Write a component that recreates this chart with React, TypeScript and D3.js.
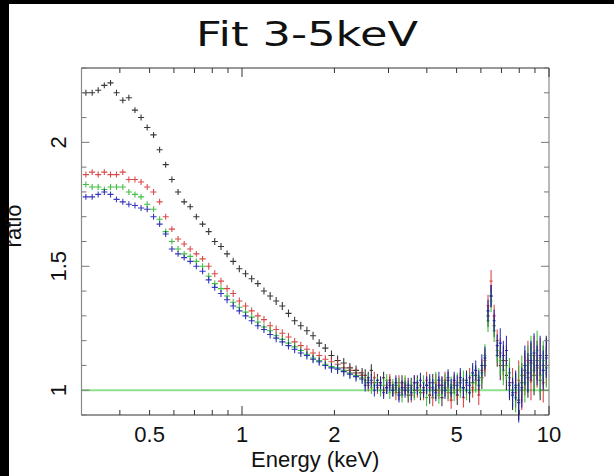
import React from "react";
import * as d3 from "d3";

// ---------- DATA ----------
const energiesLow = [0.310,0.325,0.340,0.356,0.373,0.390,0.409,0.428,0.448,0.469,0.491,0.515,0.539,0.564,0.591,0.619,0.648,0.678,0.710,0.744,0.779,0.815,0.854,0.894,0.936,0.980,1.027,1.075,1.126,1.179,1.235,1.292,1.353,1.417,1.484,1.554,1.627,1.704,1.784,1.868,1.956,2.048,2.145,2.246,2.352,2.462];
const energiesHigh = [2.519,2.578,2.638,2.699,2.762,2.826,2.892,2.960,3.029,3.099,3.171,3.245,3.321,3.398,3.478,3.559,3.642,3.726,3.813,3.902,3.993,4.086,4.181,4.278,4.378,4.480,4.584,4.691,4.800,4.912,5.026,5.143,5.263,5.386,5.512,5.640,5.771,5.906,6.043,6.185,6.329,6.476,6.627,6.781,6.939,7.101,7.266,7.435,7.608,7.786,7.967,8.153,8.343,8.537,8.735,8.939,9.147,9.360,9.578,9.801];

const blackLow = [2.20,2.20,2.21,2.23,2.24,2.20,2.17,2.18,2.13,2.10,2.06,2.03,1.97,1.91,1.85,1.80,1.76,1.74,1.70,1.67,1.64,1.60,1.58,1.55,1.52,1.49,1.47,1.45,1.43,1.40,1.38,1.36,1.34,1.31,1.28,1.26,1.24,1.22,1.19,1.17,1.14,1.12,1.11,1.09,1.08,1.07];
const redLow = [1.87,1.88,1.87,1.88,1.87,1.87,1.88,1.85,1.85,1.84,1.82,1.80,1.76,1.70,1.65,1.61,1.59,1.57,1.55,1.53,1.50,1.47,1.44,1.41,1.39,1.36,1.34,1.32,1.30,1.285,1.26,1.245,1.23,1.215,1.195,1.18,1.165,1.15,1.14,1.125,1.115,1.105,1.09,1.08,1.07,1.06];
const greenLow = [1.83,1.82,1.82,1.81,1.82,1.82,1.82,1.80,1.79,1.78,1.75,1.73,1.69,1.64,1.60,1.57,1.55,1.54,1.52,1.50,1.46,1.43,1.41,1.38,1.355,1.335,1.315,1.295,1.275,1.255,1.24,1.22,1.205,1.19,1.175,1.16,1.145,1.13,1.12,1.105,1.095,1.09,1.08,1.07,1.06,1.05];
const blueLow = [1.78,1.78,1.79,1.80,1.79,1.77,1.76,1.75,1.745,1.735,1.73,1.70,1.67,1.63,1.57,1.55,1.535,1.52,1.50,1.48,1.445,1.415,1.39,1.365,1.34,1.32,1.30,1.28,1.26,1.245,1.225,1.21,1.195,1.18,1.165,1.15,1.14,1.125,1.115,1.10,1.09,1.085,1.075,1.065,1.055,1.045];

const blackHigh = [1.06,1.05,1.08,1.03,1.04,1.02,1.05,1.01,1.03,1.00,1.02,0.99,1.03,1.01,0.98,1.02,1.00,1.03,0.99,1.01,1.02,0.98,1.03,1.00,1.02,0.97,1.01,1.04,0.99,1.02,0.98,1.03,1.01,1.04,0.99,1.03,1.06,1.02,1.05,1.10,1.30,1.38,1.26,1.14,1.10,1.12,1.06,1.02,0.98,1.01,0.96,1.03,1.08,1.05,1.11,1.06,1.12,1.04,1.10,1.14];
const redHigh = [1.04,1.02,1.03,1.05,1.01,1.03,1.00,1.02,1.04,1.01,0.99,1.03,1.00,1.02,1.01,0.98,1.03,1.00,1.02,0.99,1.04,1.01,0.97,1.03,1.00,1.02,1.04,0.99,0.96,1.03,1.00,1.04,0.97,1.02,1.05,1.01,1.04,0.98,1.08,1.12,1.34,1.44,1.30,1.20,1.15,1.10,1.12,1.05,1.03,0.99,1.04,1.00,1.06,1.12,1.04,1.14,1.09,1.13,1.03,1.10];
const greenHigh = [1.03,1.04,1.01,1.02,1.03,1.00,1.02,1.04,0.99,1.02,1.01,1.02,0.98,1.03,1.00,1.01,0.99,1.02,1.00,1.03,0.97,1.02,1.00,1.04,0.98,1.01,1.03,1.00,1.02,0.99,1.03,1.01,1.04,1.00,1.03,1.06,1.03,1.05,1.07,1.14,1.28,1.36,1.24,1.16,1.12,1.08,1.10,1.07,1.00,0.97,1.02,1.06,1.03,1.10,1.14,1.08,1.16,1.06,1.12,1.09];
const blueHigh = [1.02,1.03,1.04,1.00,1.02,1.03,0.99,1.01,1.02,1.00,1.03,0.98,1.01,1.00,1.02,0.99,1.03,1.01,1.04,1.00,1.02,1.03,1.01,0.99,1.04,1.02,1.00,1.05,1.01,1.04,1.02,1.05,1.01,1.03,1.02,1.07,1.08,1.04,1.10,1.13,1.32,1.38,1.28,1.18,1.19,1.14,1.16,1.03,0.99,1.02,0.95,1.01,1.10,1.07,1.12,1.15,1.10,1.14,1.08,1.13];

const errLow = [0.012,0.012,0.012,0.012,0.012,0.012,0.012,0.012,0.012,0.012,0.012,0.012,0.012,0.012,0.012,0.012,0.012,0.012,0.012,0.012,0.014,0.014,0.014,0.014,0.014,0.014,0.014,0.014,0.014,0.014,0.016,0.016,0.016,0.016,0.016,0.016,0.016,0.016,0.016,0.016,0.02,0.02,0.02,0.02,0.02,0.02];
const errHigh = [0.025,0.025,0.025,0.025,0.025,0.025,0.025,0.025,0.025,0.025,0.03,0.03,0.03,0.03,0.03,0.03,0.03,0.03,0.03,0.03,0.035,0.035,0.035,0.035,0.035,0.035,0.035,0.035,0.035,0.035,0.04,0.04,0.04,0.04,0.04,0.04,0.04,0.04,0.045,0.045,0.045,0.045,0.045,0.045,0.06,0.06,0.06,0.06,0.06,0.06,0.08,0.08,0.08,0.08,0.08,0.08,0.08,0.08,0.08,0.08];

const xTickLabels = [0.5, 1, 2, 5, 10];
const yTickLabels = [1, 1.5, 2];
const modelValue = 1;
const titleText = "Fit 3-5keV";
const xLabelText = "Energy (keV)";
const yLabelText = "ratio";

const energies = energiesLow.concat(energiesHigh);
const errors = errLow.concat(errHigh);
const seriesList = [
  { name: "black", color: "#151515", values: blackLow.concat(blackHigh) },
  { name: "red", color: "#d42a2a", values: redLow.concat(redHigh) },
  { name: "green", color: "#22b422", values: greenLow.concat(greenHigh) },
  { name: "blue", color: "#1414b4", values: blueLow.concat(blueHigh) },
];

// ---------- LAYOUT ----------
const W = 614, H = 476;
const L = 81.5, R = 549, T = 68, B = 415;
const FONT = "'Liberation Sans', Arial, sans-serif";

export default function App() {
  const x = d3.scaleLog().domain([0.3, 10]).range([L, R]);
  const y = d3.scaleLinear().domain([0.9, 2.3]).range([B, T]);

  const edges = energies.map((e, i) => {
    const prev = i > 0 ? energies[i - 1] : e * e / energies[1];
    const next = i < energies.length - 1 ? energies[i + 1] : e * e / energies[i - 1];
    return [Math.sqrt(prev * e), Math.sqrt(e * next)];
  });

  const crossPath = (vals: number[]) => {
    const parts: string[] = [];
    vals.forEach((v, i) => {
      const e = energies[i];
      const [lo, hi] = edges[i];
      const xc = x(e), yc = y(v);
      parts.push(`M${x(lo)},${yc}L${x(hi)},${yc}`);
      parts.push(`M${xc},${y(v - errors[i])}L${xc},${y(v + errors[i])}`);
    });
    return parts.join("");
  };

  const xTicks = x.ticks().filter((t) => t >= 0.305 && t <= 10.001);
  const yTicks = y.ticks(14);
  const isDecade = (t: number) => Math.abs(Math.log10(t) - Math.round(Math.log10(t))) < 1e-6;
  const isYMajor = (t: number) => Math.abs(t * 2 - Math.round(t * 2)) < 1e-6;

  return (
    <svg width={W} height={H} style={{ position: "absolute", left: 0, top: 0, background: "#fff" }}>
      <rect x={0} y={0} width={W} height={H} fill="#fff" />
      <rect x={0} y={0} width={9} height={H} fill="#000" />
      <rect x={0} y={0} width={W} height={4} fill="#000" />

      <text x={307} y={46} textAnchor="middle" fontSize={33} fontFamily="'Comic Sans MS', 'DejaVu Sans', sans-serif" fill="#111" textLength={222} lengthAdjust="spacingAndGlyphs">{titleText}</text>

      {/* model line */}
      <line x1={L} x2={R} y1={y(modelValue)} y2={y(modelValue)} stroke="#8ee08e" strokeWidth={2} />

      {/* data */}
      {seriesList.map((s) => (
        <path key={s.name} d={crossPath(s.values)} stroke={s.color} strokeWidth={1.1} strokeOpacity={0.85} fill="none" />
      ))}

      {/* frame */}
      <line x1={L} x2={L} y1={T} y2={B} stroke="#8a8a8a" strokeWidth={1.2} />
      <line x1={R} x2={R} y1={T} y2={B} stroke="#8a8a8a" strokeWidth={1.2} />
      <line x1={L} x2={R} y1={B} y2={B} stroke="#333" strokeWidth={1.2} />
      <line x1={L} x2={R} y1={T} y2={T} stroke="#333" strokeWidth={1.2} />

      {/* x ticks */}
      {xTicks.map((t) => {
        const len = isDecade(t) ? 9 : 5;
        return (
          <g key={"xt" + t}>
            <line x1={x(t)} x2={x(t)} y1={B} y2={B - len} stroke="#333" strokeWidth={1} />
            <line x1={x(t)} x2={x(t)} y1={T} y2={T + len} stroke="#333" strokeWidth={1} />
          </g>
        );
      })}
      {/* y ticks */}
      {yTicks.map((t) => {
        const len = isYMajor(t) ? 8 : 5;
        return (
          <g key={"yt" + t}>
            <line x1={L} x2={L + len} y1={y(t)} y2={y(t)} stroke="#777" strokeWidth={1} />
            <line x1={R} x2={R - len} y1={y(t)} y2={y(t)} stroke="#777" strokeWidth={1} />
          </g>
        );
      })}

      {xTickLabels.map((t) => (
        <text key={"xl" + t} x={x(t)} y={442} textAnchor="middle" fontSize={22} fontFamily={FONT} fill="#111">{t}</text>
      ))}
      {yTickLabels.map((t) => (
        <text key={"yl" + t} transform={`translate(66,${y(t)}) rotate(-90)`} textAnchor="middle" fontSize={22} fontFamily={FONT} fill="#111">{t}</text>
      ))}

      <text x={(L + R) / 2} y={467} textAnchor="middle" fontSize={22} fontFamily={FONT} fill="#111">{xLabelText}</text>
      <text transform={`translate(20.5,226) rotate(-90)`} textAnchor="middle" fontSize={22} fontFamily={FONT} fill="#111">{yLabelText}</text>
    </svg>
  );
}
